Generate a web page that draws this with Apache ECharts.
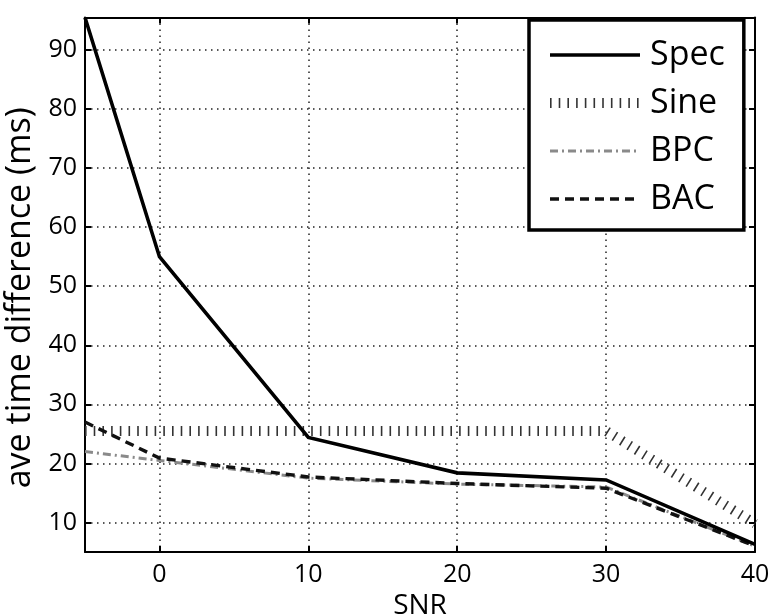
<!DOCTYPE html>
<html>
<head>
<meta charset="utf-8">
<script src="https://cdn.jsdelivr.net/npm/echarts@6/dist/echarts.min.js"></script>
<style>html,body{margin:0;padding:0;background:#fff;}#c{width:772px;height:615px;}</style>
</head>
<body>
<div id="c"></div>
<script>
const snr = [-5, 0, 10, 20, 30, 40];
const spec = [95.5, 55, 24.4, 18.4, 17.2, 6.3];
const sine = [25.5, 25.5, 25.5, 25.5, 25.5, 9.8];
const bpc = [22, 20.5, 17.5, 16.5, 16, 6];
const bac = [27, 20.9, 17.7, 16.6, 15.8, 6];
const names = ['Spec', 'Sine', 'BPC', 'BAC'];

const pairs = a => snr.map((x, i) => [x, a[i]]);
const FONT = '"Open Sans", "DejaVu Sans", sans-serif';

const styles = {
  Spec: {color: '#000', width: 3.6, type: 'solid'},
  Sine: {color: '#333', width: 10, type: [1.6, 7.1]},
  BPC: {color: '#8a8a8a', width: 3, type: [8, 4, 2, 4]},
  BAC: {color: '#111', width: 3.4, type: [9, 6]}
};
const dataMap = {Spec: spec, Sine: sine, BPC: bpc, BAC: bac};
const drawOrder = ['Sine', 'BPC', 'BAC', 'Spec'];

const chart = echarts.init(document.getElementById('c'));
const gridLine = {show: true, lineStyle: {color: '#222', width: 1.5, type: [1.5, 4.5]}};
chart.setOption({
  animation: false,
  backgroundColor: '#fff',
  grid: {left: 85, right: 17, top: 17.5, bottom: 63, containLabel: false, outerBoundsMode: 'none'},
  legend: {
    orient: 'vertical',
    left: 529, top: 20,
    padding: [17, 19, 13, 16],
    borderColor: '#000', borderWidth: 3.5,
    backgroundColor: '#fff',
    itemWidth: 90, itemHeight: 14, itemGap: 12,
    textStyle: {fontFamily: FONT, fontSize: 34, color: '#000', lineHeight: 36, padding: [0, 0, 0, 5]},
    data: names.map(n => ({name: n, lineStyle: styles[n], itemStyle: {opacity: 0}}))
  },
  xAxis: [{
    type: 'value', min: -5, max: 40, splitNumber: 5,
    name: 'SNR', nameLocation: 'middle', nameGap: 36,
    nameTextStyle: {fontFamily: FONT, fontSize: 28, color: '#000'},
    axisLine: {show: true, onZero: false, lineStyle: {color: '#000', width: 2}},
    axisTick: {show: true, inside: true, length: 6, lineStyle: {color: '#000', width: 2}},
    axisLabel: {fontFamily: FONT, fontSize: 25, color: '#000', margin: 10, showMinLabel: false},
    splitLine: gridLine
  }, {
    type: 'value', min: -5, max: 40, splitNumber: 5, position: 'top',
    axisLine: {show: true, onZero: false, lineStyle: {color: '#000', width: 2}},
    axisTick: {show: true, inside: true, length: 6, lineStyle: {color: '#000', width: 2}},
    axisLabel: {show: false}, splitLine: {show: false}
  }],
  yAxis: [{
    type: 'value', min: 5, max: 95.5, splitNumber: 9,
    name: 'ave time difference (ms)', nameLocation: 'middle', nameGap: 33,
    nameTextStyle: {fontFamily: FONT, fontSize: 34, color: '#000', padding: [0, 26, 0, 0]},
    axisLine: {show: true, onZero: false, lineStyle: {color: '#000', width: 2}},
    axisTick: {show: true, inside: true, length: 6, lineStyle: {color: '#000', width: 2}},
    axisLabel: {fontFamily: FONT, fontSize: 25, color: '#000', margin: 8, showMinLabel: false, showMaxLabel: false},
    splitLine: gridLine
  }, {
    type: 'value', min: 5, max: 95.5, splitNumber: 9, position: 'right',
    axisLine: {show: true, onZero: false, lineStyle: {color: '#000', width: 2}},
    axisTick: {show: true, inside: true, length: 6, lineStyle: {color: '#000', width: 2}},
    axisLabel: {show: false}, splitLine: {show: false}
  }],
  series: drawOrder.map(n => ({
    name: n, type: 'line', data: pairs(dataMap[n]),
    showSymbol: false, symbol: 'none',
    lineStyle: Object.assign({cap: 'butt', join: 'miter'}, styles[n]),
    xAxisIndex: 0, yAxisIndex: 0, z: 3
  }))
});
</script>
</body>
</html>
